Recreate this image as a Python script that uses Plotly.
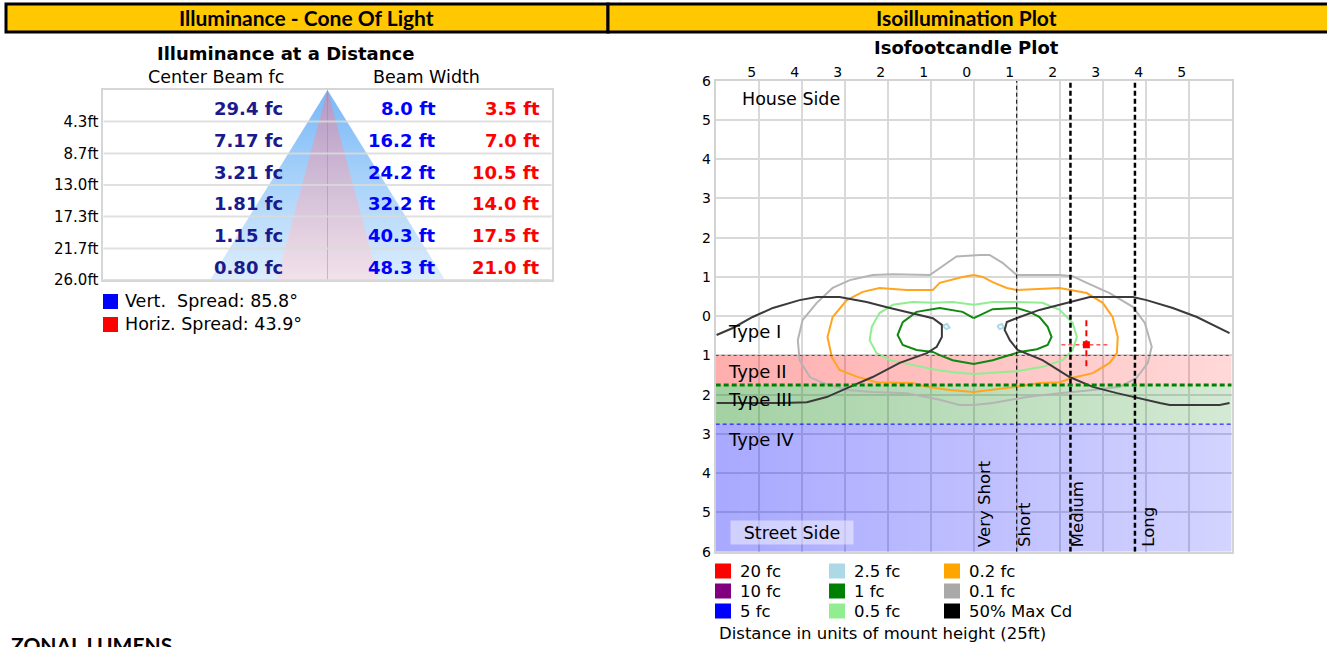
import plotly.graph_objects as go

W, H = 1327, 647

# ---------------- Data: Illuminance - Cone of Light ----------------
distance_ft = [4.3, 8.7, 13.0, 17.3, 21.7, 26.0]
distance_labels = ["4.3ft", "8.7ft", "13.0ft", "17.3ft", "21.7ft", "26.0ft"]
center_beam_fc = ["29.4 fc", "7.17 fc", "3.21 fc", "1.81 fc", "1.15 fc", "0.80 fc"]
vert_width_ft = [8.0, 16.2, 24.2, 32.2, 40.3, 48.3]
horiz_width_ft = [3.5, 7.0, 10.5, 14.0, 17.5, 21.0]
vert_spread_deg = 85.8
horiz_spread_deg = 43.9

# ---------------- Data: Isofootcandle plot (units of mount height) ----------------
mount_height_ft = 25
iso_ticks = [-6, -5, -4, -3, -2, -1, 0, 1, 2, 3, 4, 5, 6]
type_names = ["Type I", "Type II", "Type III", "Type IV"]
type_bounds = [1.0, 1.75, 2.75, 6.0]
class_names = ["Very Short", "Short", "Medium", "Long"]
class_starts = [0.0, 1.0, 2.25, 3.75]

fc01_x = [0.14, 0.37, 0.67, 1.0, 2.0, 2.3, 2.63, 3.16, 3.7, 3.98, 4.14, 4.05, 3.79, 3.4, 2.77, 2.0,
          1.23, 0.44, 0.0, -0.33, -0.79, -1.56, -2.35, -2.95, -3.51, -3.81, -4.05, -4.09, -3.98,
          -3.65, -3.28, -2.88, -2.35, -1.88, -1.02, -0.4, 0.14]
fc01_y = [1.56, 1.56, 1.36, 1.05, 1.05, 1.02, 0.85, 0.59, 0.24, -0.17, -0.78, -1.19, -1.57, -1.80,
          -1.88, -1.96, -2.06, -2.21, -2.26, -2.26, -2.13, -1.96, -1.93, -1.88, -1.70, -1.55,
          -1.12, -0.61, -0.10, 0.34, 0.72, 0.92, 1.05, 1.07, 1.05, 1.52, 1.56]

fc02_x = [0, 0.21, 0.44, 0.77, 1.0, 2.0, 2.63, 3.0, 3.23, 3.35, 3.33, 3.16, 2.77, 2.3, 2.0, 1.53,
          1.0, 0.44, 0, -0.56, -1.09, -1.42, -2.26, -2.72, -3.12, -3.30, -3.40, -3.28, -2.95,
          -2.58, -2.19, -1.56, -0.95, -0.79, -0.26, 0]
fc02_y = [1.05, 1.0, 0.87, 0.72, 0.67, 0.72, 0.59, 0.34, -0.02, -0.53, -0.94, -1.19, -1.45, -1.57,
          -1.68, -1.70, -1.80, -1.88, -1.93, -1.88, -1.80, -1.70, -1.68, -1.54, -1.37, -1.04,
          -0.53, -0.02, 0.41, 0.62, 0.72, 0.67, 0.67, 0.85, 1.0, 1.05]

fc05_x = [0, 0.44, 1.0, 1.6, 2.0, 2.3, 2.4, 2.3, 2.07, 1.6, 1.0, 0.44, 0, -0.49, -0.95, -1.42,
          -1.95, -2.26, -2.42, -2.37, -2.19, -1.88, -1.42, -0.95, -0.49, 0]
fc05_y = [0.29, 0.36, 0.36, 0.34, 0.16, -0.17, -0.53, -0.86, -1.12, -1.29, -1.40, -1.45, -1.47,
          -1.43, -1.35, -1.24, -1.12, -0.94, -0.61, -0.27, 0.08, 0.29, 0.36, 0.34, 0.36, 0.29]

fc1_x = [0, 0.26, 0.44, 1.0, 1.30, 1.53, 1.72, 1.81, 1.72, 1.47, 1.07, 0.84, 0.44, 0, -0.49, -0.79,
         -0.95, -1.33, -1.65, -1.77, -1.65, -1.33, -0.79, -0.26, 0]
fc1_y = [-0.05, 0.08, 0.18, 0.21, 0.11, -0.02, -0.27, -0.53, -0.73, -0.84, -0.91, -0.99, -1.12,
         -1.22, -1.12, -0.99, -0.91, -0.86, -0.73, -0.48, -0.15, 0.11, 0.21, 0.11, -0.05]

fc25_left_x = [-0.72, -0.62, -0.56, -0.64, -0.72]
fc25_left_y = [-0.24, -0.20, -0.29, -0.33, -0.24]
fc25_right_x = [0.55, 0.66, 0.70, 0.60, 0.55]
fc25_right_y = [-0.24, -0.20, -0.29, -0.33, -0.24]

maxcd_left_x = [-5.98, -5.6, -5.14, -4.67, -4.05, -3.65, -3.12, -2.49, -2.02, -1.42, -0.95, -0.74,
                -0.74, -0.86, -1.09, -1.72, -2.35, -2.88, -3.42, -3.88, -4.44, -5.98]
maxcd_left_y = [-0.48, -0.30, -0.02, 0.21, 0.41, 0.49, 0.49, 0.36, 0.23, 0.08, -0.05, -0.22,
                -0.53, -0.78, -0.94, -1.19, -1.55, -1.80, -2.06, -2.19, -2.21, -2.21]
maxcd_right_x = [5.95, 5.56, 5.19, 4.63, 4.02, 3.7, 2.70, 2.0, 1.53, 1.07, 0.77, 0.72, 0.84, 1.02,
                 1.6, 2.23, 2.77, 3.33, 3.79, 4.33, 4.56, 5.72, 5.95]
maxcd_right_y = [-0.43, -0.22, -0.02, 0.21, 0.41, 0.49, 0.49, 0.29, 0.16, -0.02, -0.15, -0.35,
                 -0.61, -0.86, -1.12, -1.55, -1.80, -1.96, -2.08, -2.21, -2.26, -2.26, -2.21]

max_cd_point = (2.62, -0.73)
max_cd_cross_x = [2.04, 3.16]
max_cd_cross_y = [-0.10, -1.29]

legend_labels = ["20 fc", "10 fc", "5 fc", "2.5 fc", "1 fc", "0.5 fc", "0.2 fc", "0.1 fc", "50% Max Cd"]
legend_colors = ["#FF0000", "#800080", "#0000FF", "#ADD8E6", "#008000", "#90EE90", "#FFA500",
                 "#A9A9A9", "#000000"]


# ---------------- helpers ----------------
def px(x):
    return x / W


def py(y):
    return 1 - y / H


def ann(text, x, y, size=14, color="#000000", bold=False, xanchor="center", yanchor="middle",
        family="DejaVu Sans", xref="paper", yref="paper", **kw):
    t = "<b>%s</b>" % text if bold else text
    d = dict(text=t, x=x, y=y, xref=xref, yref=yref, showarrow=False, xanchor=xanchor,
             yanchor=yanchor, font=dict(family=family, size=size, color=color))
    d.update(kw)
    return d


fig = go.Figure()

# ================= Cone of light =================
cone_x_half = 46.1
half_v = [w / 2 for w in vert_width_ft]
half_h = [w / 2 for w in horiz_width_ft]
cone_y = [0] + distance_ft + distance_ft[::-1] + [0]
fig.add_trace(go.Scatter(
    x=[0] + half_v + [-h for h in half_v[::-1]] + [0], y=cone_y, mode="lines",
    fill="toself", fillgradient=dict(type="vertical", colorscale=[[0, "#DDEEFC"], [1, "#78B8F8"]]),
    line=dict(width=0), xaxis="x2", yaxis="y2", hoverinfo="skip", showlegend=False))
fig.add_trace(go.Scatter(
    x=[0] + half_h + [-h for h in half_h[::-1]] + [0], y=cone_y, mode="lines",
    fill="toself", fillgradient=dict(type="vertical", colorscale=[[0, "#F2E2EA"], [1, "#B298C4"]]),
    line=dict(width=0), xaxis="x2", yaxis="y2", hoverinfo="skip", showlegend=False))
fig.add_trace(go.Scatter(x=[0, 0], y=[0, distance_ft[-1]], mode="lines",
                         line=dict(color="rgba(150,130,160,0.45)", width=1),
                         xaxis="x2", yaxis="y2", hoverinfo="skip", showlegend=False))
gx, gy = [], []
for d in distance_ft:
    gx += [-cone_x_half, cone_x_half, None]
    gy += [d, d, None]
fig.add_trace(go.Scatter(x=gx, y=gy, mode="lines", line=dict(color="rgba(218,218,218,0.85)", width=2),
                         xaxis="x2", yaxis="y2", hoverinfo="skip", showlegend=False))

# ================= Isofootcandle plot =================
band_colors = [
    [[0, "rgba(255,0,0,0.32)"], [1, "rgba(255,0,0,0.15)"]],
    [[0, "rgba(0,128,0,0.36)"], [1, "rgba(0,128,0,0.17)"]],
    [[0, "rgba(0,0,255,0.34)"], [1, "rgba(0,0,255,0.17)"]],
]
for i in range(3):
    y0, y1 = -type_bounds[i], -type_bounds[i + 1]
    fig.add_trace(go.Scatter(x=[-6, 6, 6, -6, -6], y=[y0, y0, y1, y1, y0], mode="lines",
                             fill="toself", fillgradient=dict(type="horizontal", colorscale=band_colors[i]),
                             line=dict(width=0), hoverinfo="skip", showlegend=False))

line_specs = [
    (fc01_x, fc01_y, "#B4B4B4", 2),
    (fc02_x, fc02_y, "#FFA520", 2),
    (fc05_x, fc05_y, "#90EE90", 2),
    (fc1_x, fc1_y, "#118811", 2),
    (fc25_left_x, fc25_left_y, "#ADD8E6", 2),
    (fc25_right_x, fc25_right_y, "#ADD8E6", 2),
    (maxcd_left_x, maxcd_left_y, "#3A3A3A", 2),
    (maxcd_right_x, maxcd_right_y, "#3A3A3A", 2),
]
for xs, ys, c, w in line_specs:
    fig.add_trace(go.Scatter(x=xs, y=ys, mode="lines", line=dict(color=c, width=w),
                             hoverinfo="skip", showlegend=False))

# type boundaries (dashed)
bound_styles = [("#FF0000", 1, "3px,3px"), ("#008000", 3, "5px,3px"), ("#0000FF", 1, "4px,3px")]
for b, (c, w, dsh) in zip(type_bounds[:3], bound_styles):
    fig.add_trace(go.Scatter(x=[-6, 6], y=[-b, -b], mode="lines", line=dict(color=c, width=w, dash=dsh),
                             hoverinfo="skip", showlegend=False))

# lateral classification boundaries
for b, w in zip(class_starts[1:], [1, 2.5, 2.5]):
    fig.add_trace(go.Scatter(x=[b, b], y=[-6, 6], mode="lines",
                             line=dict(color="#000000", width=w, dash="5px,3px" if w > 1 else "4px,3px"),
                             hoverinfo="skip", showlegend=False))

# max candela point
fig.add_trace(go.Scatter(x=max_cd_cross_x, y=[max_cd_point[1]] * 2, mode="lines",
                         line=dict(color="#FF0000", width=1, dash="4px,3px"), hoverinfo="skip", showlegend=False))
fig.add_trace(go.Scatter(x=[max_cd_point[0]] * 2, y=max_cd_cross_y, mode="lines",
                         line=dict(color="#FF0000", width=2, dash="6px,4px"), hoverinfo="skip", showlegend=False))
fig.add_trace(go.Scatter(x=[max_cd_point[0]], y=[max_cd_point[1]], mode="markers",
                         marker=dict(symbol="square", size=7, color="#FF0000"), hoverinfo="skip", showlegend=False))

# ================= Annotations =================
anns = []
shapes = []

# header bar
shapes.append(dict(type="rect", xref="paper", yref="paper", x0=px(6), x1=px(608), y0=py(32), y1=py(4),
                   fillcolor="#FFC800", line=dict(color="#000000", width=3), layer="below"))
shapes.append(dict(type="rect", xref="paper", yref="paper", x0=px(608), x1=px(1340), y0=py(32), y1=py(4),
                   fillcolor="#FFC800", line=dict(color="#000000", width=3), layer="below"))
anns.append(ann("Illuminance - Cone Of Light", px(306), py(17.5), size=21, bold=True, family="Lato"))
anns.append(ann("Isoillumination Plot", px(966), py(17.5), size=21, bold=True, family="Lato"))

# cone titles
anns.append(ann("Illuminance at a Distance", px(285), py(53), size=18, bold=True))
anns.append(ann("Center Beam fc", px(216), py(77), size=17.5))
anns.append(ann("Beam Width", px(427), py(77), size=17.5))

prev = [0] + distance_ft[:-1]
for i in range(len(distance_ft)):
    ymid = (prev[i] + distance_ft[i]) / 2
    anns.append(ann(center_beam_fc[i], 0.405, ymid, size=18, bold=True, color="#1A1A8C", xanchor="right",
                    xref="x2 domain", yref="y2", yshift=-3))
    anns.append(ann("%.1f ft" % vert_width_ft[i], 0.747, ymid, size=18, bold=True, color="#0000FF",
                    xanchor="right", xref="x2 domain", yref="y2", yshift=-3))
    anns.append(ann("%.1f ft" % horiz_width_ft[i], 0.978, ymid, size=18, bold=True, color="#FF0000",
                    xanchor="right", xref="x2 domain", yref="y2", yshift=-3))

shapes.append(dict(type="rect", xref="paper", yref="paper", x0=px(103), x1=px(118), y0=py(309), y1=py(294),
                   fillcolor="#0000FF", line=dict(width=0)))
shapes.append(dict(type="rect", xref="paper", yref="paper", x0=px(103), x1=px(118), y0=py(332), y1=py(317),
                   fillcolor="#FF0000", line=dict(width=0)))
anns.append(ann("Vert.&nbsp; Spread: %.1f°" % vert_spread_deg, px(123), py(301), size=17.5, xanchor="left"))
anns.append(ann("Horiz. Spread: %.1f°" % horiz_spread_deg, px(123), py(324), size=17.5, xanchor="left"))

anns.append(ann("ZONAL LUMENS", px(9), py(630), size=21, bold=True, family="Lato", xanchor="left",
                yanchor="top"))

# iso plot texts
anns.append(ann("Isofootcandle Plot", px(966), py(47), size=18, bold=True))
anns.append(ann("House Side", -4.26, 5.53, size=17.5, xref="x", yref="y"))
type_label_y = [-0.39, -1.41, -2.13, -3.15]
for name, yv in zip(type_names, type_label_y):
    anns.append(ann(name, -6, yv, size=18, xanchor="left", xref="x", yref="y", xshift=10))
anns.append(ann("Street Side", -4.23, -5.52, size=17.5, xref="x", yref="y",
                bgcolor="rgba(255,255,255,0.45)", width=118, height=19, borderpad=2))
class_xshift = [10, 7, 7, 14]
for name, xs, sh in zip(class_names, class_starts, class_xshift):
    anns.append(ann(name, xs, -6, size=16.5, xref="x", yref="y", textangle=-90, xanchor="center",
                    yanchor="bottom", xshift=sh, yshift=3))

# iso legend
col_x = [715, 829, 944]
row_y = [571, 591, 611]
for i, (lab, col) in enumerate(zip(legend_labels, legend_colors)):
    cx = col_x[i // 3]
    ry = row_y[i % 3]
    shapes.append(dict(type="rect", xref="paper", yref="paper", x0=px(cx), x1=px(cx + 16),
                       y0=py(ry + 7.5), y1=py(ry - 7.5), fillcolor=col, line=dict(width=0)))
    anns.append(ann(lab, px(cx + 23), py(ry), size=16.5, xanchor="left"))
anns.append(ann("Distance in units of mount height (%dft)" % mount_height_ft, px(717), py(633), size=16.5,
                xanchor="left"))

tickfont = dict(family="DejaVu Sans", size=14, color="#000000")
fig.update_layout(
    width=W, height=H, margin=dict(l=0, r=0, t=0, b=0, autoexpand=False),
    paper_bgcolor="#FFFFFF", plot_bgcolor="#FFFFFF", showlegend=False,
    xaxis=dict(domain=[px(715.7), px(1231.7)], range=[-6, 6], side="top", anchor="y",
               tickvals=iso_ticks, ticktext=["" if abs(v) == 6 else str(abs(v)) for v in iso_ticks],
               showgrid=True, gridcolor="#D9D9D9", gridwidth=2, zeroline=False,
               showline=True, linecolor="#D3D3D3", linewidth=2, mirror=True, ticks="",
               tickfont=tickfont, ticklabelshift=-7, ticklabelstandoff=-4, fixedrange=True),
    yaxis=dict(domain=[py(551.7), py(80.7)], range=[-6, 6], anchor="x",
               tickvals=iso_ticks, ticktext=[str(abs(v)) for v in iso_ticks],
               showgrid=True, gridcolor="#D9D9D9", gridwidth=2, zeroline=False,
               showline=True, linecolor="#D3D3D3", linewidth=2, mirror=True, ticks="",
               tickfont=tickfont, fixedrange=True),
    xaxis2=dict(domain=[px(103.3), px(551.7)], range=[-cone_x_half, cone_x_half], anchor="y2",
                showticklabels=False, showgrid=False, zeroline=False, ticks="",
                showline=True, linecolor="#D6D6D6", linewidth=2, mirror=True, fixedrange=True),
    yaxis2=dict(domain=[py(280), py(90)], range=[distance_ft[-1], 0], anchor="x2",
                tickvals=distance_ft, ticktext=distance_labels, showgrid=False, zeroline=False, ticks="",
                showline=True, linecolor="#D6D6D6", linewidth=2, mirror=True,
                tickfont=dict(family="DejaVu Sans", size=15, color="#000000"), fixedrange=True),
    annotations=anns, shapes=shapes,
)

fig.write_html("out.html", config={"displayModeBar": False},
               post_script="document.body.style.margin='0px';document.body.style.overflow='hidden';")
